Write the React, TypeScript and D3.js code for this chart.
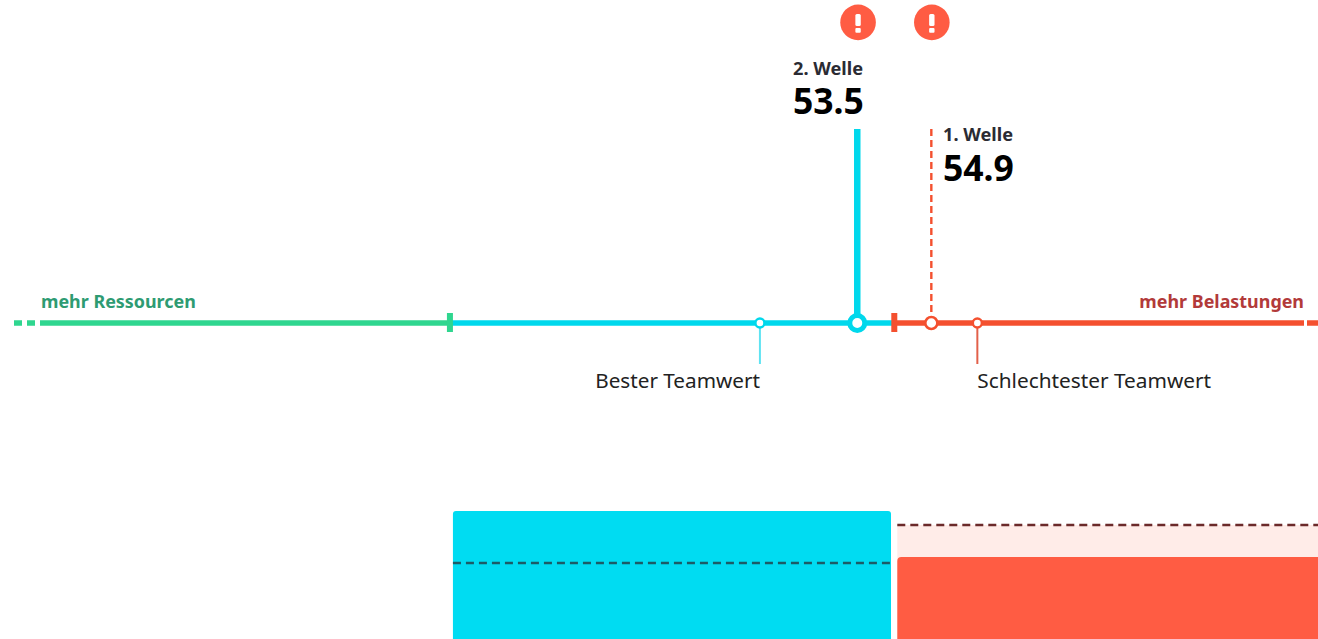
import React from "react";
import * as d3 from "d3";

const W = 1318, H = 639;
const waveLabels = ["1. Welle", "2. Welle"];
const waveValues = [54.9, 53.5];
const bestTeam = 51.66;
const worstTeam = 55.77;
const resourceEnd = 45.8;
const strainStart = 54.2;
const axisDomain = [37.55, 62.2];
const barLabels = ["Ressourcen", "Belastungen"];
const barCurrent = [64, 52.5];
const barPrevious = [51, 60.5];

const FONT = "'Noto Sans', sans-serif";
const CYAN = "#00d8ec", GREEN = "#2fd68f", RED = "#f4502f";

export default function App() {
  const x = d3.scaleLinear().domain(axisDomain).range([13.5, 1317.5]);
  const y = d3.scaleLinear().domain([0, 100]).range([767, 367]);
  const axisY = 323;
  const [w1, w2] = waveValues;
  const alert = (cx: number) => (
    <g key={cx}>
      <circle cx={cx} cy={22.4} r={17.8} fill="#ff5c43" />
      <rect x={cx - 2.7} y={14} width={5.4} height={12} rx={1.5} fill="#fff" />
      <rect x={cx - 2.7} y={28} width={5.4} height={4.8} rx={1} fill="#fff" />
    </g>
  );
  const barL = [x(resourceEnd) + 3, x(strainStart) + 3];
  const barR = [891, W];
  return (
    <svg width={W} height={H} viewBox={`0 0 ${W} ${H}`} style={{ position: "absolute", left: 0, top: 0, fontFamily: FONT }}>
      <rect width={W} height={H} fill="#fff" />
      {alert(x(w2) + 0.8)}
      {alert(x(w1) + 0.5)}

      {/* axis */}
      <line x1={14} x2={36} y1={axisY} y2={axisY} stroke={GREEN} strokeWidth={5.5} strokeDasharray="8 5" />
      <line x1={40} x2={x(resourceEnd)} y1={axisY} y2={axisY} stroke={GREEN} strokeWidth={5.5} />
      <line x1={x(resourceEnd)} x2={x(strainStart)} y1={axisY} y2={axisY} stroke={CYAN} strokeWidth={5.5} />
      <line x1={x(strainStart)} x2={1304} y1={axisY} y2={axisY} stroke={RED} strokeWidth={5.5} />
      <line x1={1307} x2={1318} y1={axisY} y2={axisY} stroke={RED} strokeWidth={5.5} />
      <rect x={x(resourceEnd) - 3} y={313} width={6} height={19} fill={GREEN} />
      <rect x={x(strainStart) - 3} y={313} width={6} height={19} fill={RED} />

      {/* wave markers */}
      <line x1={x(w2)} x2={x(w2)} y1={129} y2={axisY} stroke={CYAN} strokeWidth={6.5} />
      <line x1={x(w1)} x2={x(w1)} y1={129} y2={axisY} stroke={RED} strokeWidth={2.4} strokeDasharray="7 4" />
      <circle cx={x(w2)} cy={axisY} r={7.5} fill="#fff" stroke={CYAN} strokeWidth={5} />
      <circle cx={x(w1)} cy={axisY} r={6} fill="#fff" stroke={RED} strokeWidth={2.5} />

      {/* team markers */}
      <line x1={x(bestTeam)} x2={x(bestTeam)} y1={axisY} y2={364} stroke="#5fe3f2" strokeWidth={2} />
      <line x1={x(worstTeam)} x2={x(worstTeam)} y1={axisY} y2={364} stroke="#e2604a" strokeWidth={2} />
      <circle cx={x(bestTeam)} cy={axisY} r={4.5} fill="#fff" stroke={CYAN} strokeWidth={2.4} />
      <circle cx={x(worstTeam)} cy={axisY} r={4.5} fill="#fff" stroke={RED} strokeWidth={2.4} />

      {/* texts */}
      <text x={793} y={75} fontSize={18.2} fontWeight={700} fill="#2b2b33">{waveLabels[1]}</text>
      <text x={793} y={114} fontSize={35.5} fontWeight={700} fill="#000">{waveValues[1].toFixed(1)}</text>
      <text x={943} y={141} fontSize={18.2} fontWeight={700} fill="#2b2b33">{waveLabels[0]}</text>
      <text x={943} y={181} fontSize={35.5} fontWeight={700} fill="#000">{waveValues[0].toFixed(1)}</text>
      <text x={41} y={308} fontSize={17.9} fontWeight={700} fill="#2e9b72">mehr Ressourcen</text>
      <text x={1304} y={308} fontSize={17.9} fontWeight={700} fill="#b23a3a" textAnchor="end">mehr Belastungen</text>
      <text x={x(bestTeam)} y={388} fontSize={20.7} fill="#222" textAnchor="end">Bester Teamwert</text>
      <text x={x(worstTeam)} y={388} fontSize={20.8} fill="#222">Schlechtester Teamwert</text>

      {/* bars */}
      <path d={`M${barL[0]},${H}V${y(barCurrent[0]) + 3}q0,-3 3,-3H${barR[0] - 3}q3,0 3,3V${H}Z`} fill="#00dcf2">
        <title>{barLabels[0]}</title>
      </path>
      <line x1={barL[0]} x2={barR[0]} y1={y(barPrevious[0])} y2={y(barPrevious[0])} stroke="#1d5b66" strokeWidth={2.4} strokeDasharray="8 5" />
      <rect x={barL[1]} y={y(barPrevious[1])} width={barR[1] - barL[1]} height={H - y(barPrevious[1])} fill="#ffece8" />
      <path d={`M${barL[1]},${H}V${y(barCurrent[1]) + 4}q0,-4 4,-4H${barR[1]}V${H}Z`} fill="#ff5c43">
        <title>{barLabels[1]}</title>
      </path>
      <line x1={barL[1]} x2={barR[1]} y1={y(barPrevious[1])} y2={y(barPrevious[1])} stroke="#6b2a2a" strokeWidth={2.6} strokeDasharray="8 5" />
    </svg>
  );
}
